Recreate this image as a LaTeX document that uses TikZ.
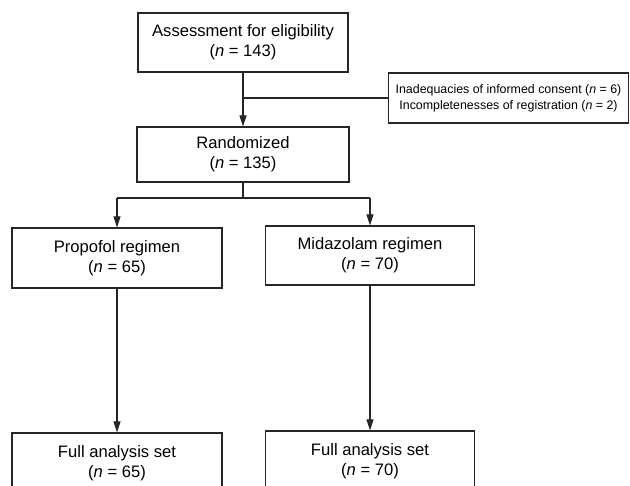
\documentclass[tikz,border=0pt]{standalone}
\usepackage{fontspec}
\setmainfont{Liberation Sans}
\usetikzlibrary{arrows.meta}
\begin{document}
\begin{tikzpicture}[x=1pt,y=-1pt,
  box/.style={draw=black!85, line width=1.1pt, fill=white, align=center, inner sep=0pt,
    font=\fontsize{16.6}{20}\selectfont},
  smallbox/.style={box, font=\fontsize{12.4}{16}\selectfont},
  conn/.style={draw=black!85, line width=1.1pt},
  arr/.style={conn, -{Triangle[length=11pt,width=7pt]}}]
\fill[white] (0,0) rectangle (630,486);
\useasboundingbox (0,0) rectangle (630,486);
\clip (0,0) rectangle (630,486);
\node[box, minimum width=210pt, minimum height=59pt] (top) at (243,42.5)
  {Assessment for eligibility\\(\textit{n} = 143)};
\node[smallbox, minimum width=240pt, minimum height=50pt] (excl) at (508.5,98)
  {Inadequacies of informed consent (\textit{n} = 6)\\Incompletenesses of registration (\textit{n} = 2)};
\node[box, minimum width=212pt, minimum height=55pt] (rand) at (243,154.5)
  {Randomized\\(\textit{n} = 135)};
\node[box, minimum width=210pt, minimum height=60pt] (prop) at (117,258)
  {Propofol regimen\\(\textit{n} = 65)};
\node[box, minimum width=209pt, minimum height=59pt] (mid) at (370,255.5)
  {Midazolam regimen\\(\textit{n} = 70)};
\node[box, minimum width=210pt, minimum height=60pt] (fas1) at (117,463)
  {Full analysis set\\(\textit{n} = 65)};
\node[box, minimum width=209pt, minimum height=60pt] (fas2) at (370,461)
  {Full analysis set\\(\textit{n} = 70)};
\coordinate (br) at (243,98);
\coordinate (split) at (243,198);
\coordinate (splitL) at (117,198);
\coordinate (splitR) at (370,198);
\draw[arr] (top.south) -- (rand.north);
\draw[conn] (br) -- (excl.west);
\draw[conn] (rand.south) -- (split);
\draw[conn] (splitL) -- (splitR);
\draw[arr] (splitL) -- (prop.north);
\draw[arr] (splitR) -- (mid.north);
\draw[arr] (prop.south) -- (fas1.north);
\draw[arr] (mid.south) -- (fas2.north);
\end{tikzpicture}
\end{document}
